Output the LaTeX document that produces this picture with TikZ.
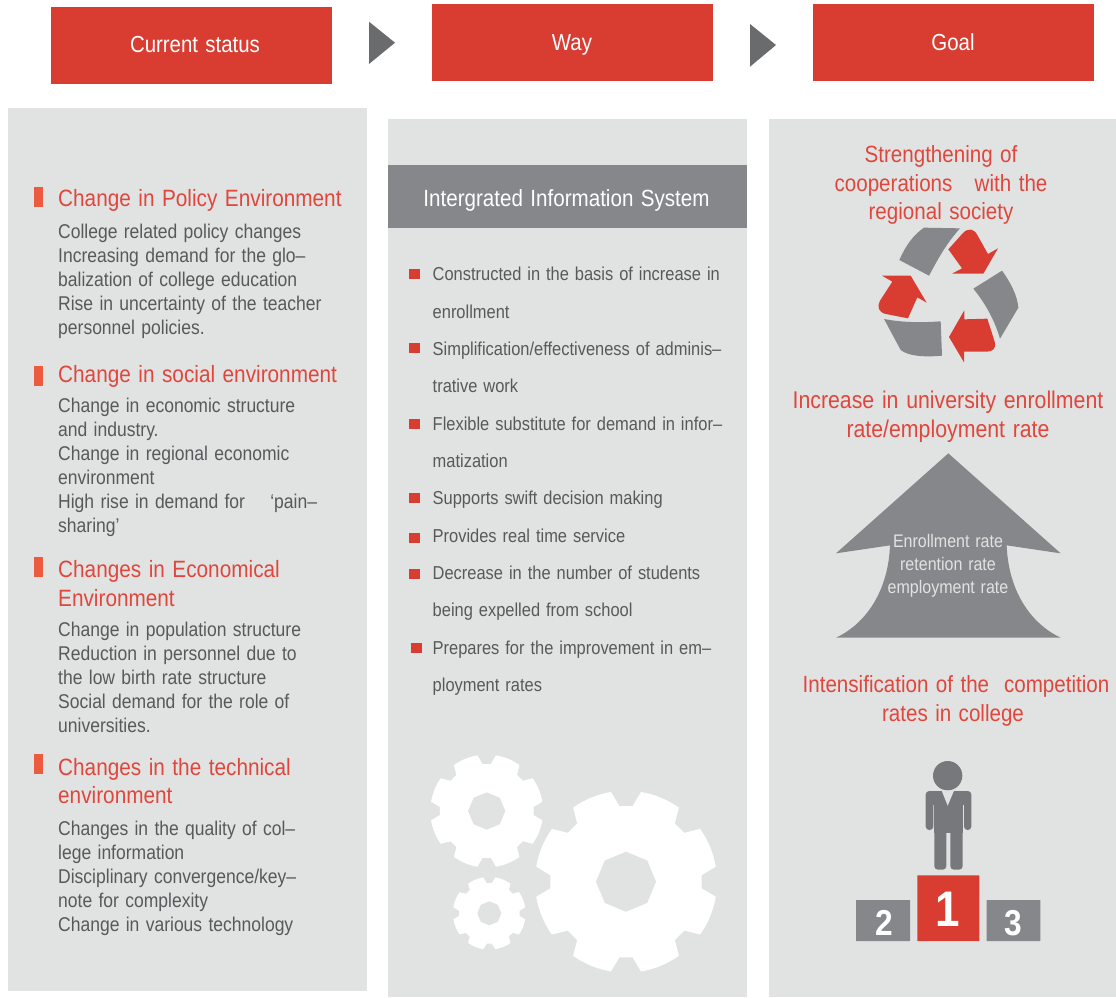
\documentclass[tikz,border=0pt]{standalone}
\usepackage{fontspec}
\setmainfont[FakeStretch=0.88,WordSpace=1.3]{Liberation Sans}
\definecolor{redbox}{HTML}{D93D32}
\definecolor{redtxt}{HTML}{E0463C}
\definecolor{redbar}{HTML}{EC5A40}
\definecolor{panel}{HTML}{E1E3E2}
\definecolor{greybar}{HTML}{86878A}
\definecolor{tri}{HTML}{6A6B6D}
\definecolor{person}{HTML}{77787C}
\definecolor{bodytxt}{HTML}{57595B}
\tikzset{
 boxfill/.style={fill=panel,draw=none},
 headtxt/.style={text=white,font=\fontsize{23.2}{23}\selectfont,inner sep=0pt,anchor=base},
 redhead/.style={text=redtxt,font=\fontsize{23.6}{23}\selectfont,inner sep=0pt,anchor=base west},
 bodyline/.style={text=bodytxt,font=\fontsize{19.9}{19}\selectfont,inner sep=0pt,anchor=base west},
 wayline/.style={text=bodytxt,font=\fontsize{18.7}{18.5}\selectfont,inner sep=0pt,anchor=base west},
 goaltxt/.style={text=redtxt,font=\fontsize{23.4}{23}\selectfont,inner sep=0pt,anchor=base},
 goalwide/.style={text=redtxt,font=\fontsize{24.2}{23}\selectfont,inner sep=0pt,anchor=base},
 arrowtxt/.style={text=panel,font=\fontsize{18.2}{17}\selectfont,inner sep=0pt,anchor=base},
 numtxt/.style={text=white,font=\bfseries,inner sep=0pt,anchor=center},
}
\newcommand{\gearshape}[3]{%
 \begin{scope}[shift={(#1,#2)},yscale=-1,scale=#3]
  \fill[white] (5:76pt)
   \foreach \a [evaluate=\a as \p using \a-17.5,evaluate=\a as \q using \a-13,evaluate=\a as \r using \a+13,evaluate=\a as \s using \a+17.5] in {22.5,67.5,...,337.5}
   { -- (\p:76pt) -- (\q:91pt) arc[start angle=\q,end angle=\r,radius=91pt] -- (\s:76pt)} -- cycle;
  \fill[panel] (0:30pt) -- (45:30pt) -- (90:30pt) -- (135:30pt) -- (180:30pt) -- (225:30pt) -- (270:30pt) -- (315:30pt) -- cycle;
 \end{scope}}
\begin{document}
\begin{tikzpicture}[x=1pt,y=-1pt]
\useasboundingbox (0,0) rectangle (1116,997);
\fill[white] (0,0) rectangle (1116,997);
% header boxes
\fill[redbox] (51,7) rectangle (332,84);
\fill[redbox] (432,4) rectangle (713,81);
\fill[redbox] (813,4) rectangle (1094,81);
\node (h1) [headtxt] at (195,52) {Current status};
\node (h2) [headtxt] at (572,50) {Way};
\node (h3) [headtxt] at (953,50) {Goal};
\fill[tri] (369,21.7) -- (395,42.7) -- (369,64) -- cycle;
\fill[tri] (750,24) -- (776,45) -- (750,66.7) -- cycle;
% panels
\fill[boxfill] (8,108) rectangle (367,991);
\fill[boxfill] (388,119) rectangle (747,997);
\fill[boxfill] (769,119) rectangle (1116,997);
% left column
\foreach \y in {187,366,557,754} \fill[redbar] (34,\y) rectangle (43.3,\y+20);
\node (a1) [redhead] at (58,206) {Change in Policy Environment};
\node (a2) [bodyline] at (58,238) {College related policy changes};
\node (a3) [bodyline] at (58,262) {Increasing demand for the glo–};
\node (a4) [bodyline] at (58,286) {balization of college education};
\node (a5) [bodyline] at (58,310) {Rise in uncertainty of the teacher};
\node (a6) [bodyline] at (58,334) {personnel policies.};
\node (b1) [redhead] at (58,382) {Change in social environment};
\node (b2) [bodyline] at (58,412) {Change in economic structure};
\node (b3) [bodyline] at (58,436) {and industry.};
\node (b4) [bodyline] at (58,460) {Change in regional economic};
\node (b5) [bodyline] at (58,484) {environment};
\node (b6) [bodyline] at (58,508) {High rise in demand for\ \ \ \ ‘pain–};
\node (b7) [bodyline] at (58,532) {sharing’};
\node (c1) [redhead] at (58,577) {Changes in Economical};
\node (c2) [redhead] at (58,606) {Environment};
\node (c3) [bodyline] at (58,636) {Change in population structure};
\node (c4) [bodyline] at (58,660) {Reduction in personnel due to};
\node (c5) [bodyline] at (58,684) {the low birth rate structure};
\node (c6) [bodyline] at (58,708) {Social demand for the role of};
\node (c7) [bodyline] at (58,732) {universities.};
\node (d1) [redhead] at (58,775) {Changes in the technical};
\node (d2) [redhead] at (58,803) {environment};
\node (d3) [bodyline] at (58,835) {Changes in the quality of col–};
\node (d4) [bodyline] at (58,859) {lege information};
\node (d5) [bodyline] at (58,883) {Disciplinary convergence/key–};
\node (d6) [bodyline] at (58,907) {note for complexity};
\node (d7) [bodyline] at (58,931) {Change in various technology};
% middle column
\fill[greybar] (388,165) rectangle (747,228);
\node (bar) [headtxt,font=\fontsize{23.4}{23}\selectfont] at (566.5,206) {Intergrated Information System};
\foreach \x/\y in {409/273.5,409/348,409/423.5,409/498,409/538,409/574,411/648}
 \fill[redbox] (\x,\y-5) rectangle (\x+11,\y+5);
\node (w1) [wayline] at (432.5,280) {Constructed in the basis of increase in};
\node (w2) [wayline] at (432.5,318) {enrollment};
\node (w3) [wayline] at (432.5,355) {Simplification/effectiveness of adminis–};
\node (w4) [wayline] at (432.5,392) {trative work};
\node (w5) [wayline] at (432.5,430) {Flexible substitute for demand in infor–};
\node (w6) [wayline] at (432.5,467) {matization};
\node (w7) [wayline] at (432.5,504) {Supports swift decision making};
\node (w8) [wayline] at (432.5,542) {Provides real time service};
\node (w9) [wayline] at (432.5,579) {Decrease in the number of students};
\node (w10) [wayline] at (432.5,616) {being expelled from school};
\node (w11) [wayline] at (432.5,654) {Prepares for the improvement in em–};
\node (w12) [wayline] at (432.5,691) {ployment rates};
% gears
\gearshape{626}{881.7}{1}
\gearshape{486.7}{811}{0.62}
\gearshape{489.3}{913.3}{0.40}
% right column texts
\node (g1) [goaltxt] at (941,162) {Strengthening of};
\node (g2) [goaltxt] at (941,191) {cooperations\ \ \ with the};
\node (g3) [goaltxt] at (941,219) {regional society};
\node (g4) [goalwide] at (948,408) {Increase in university enrollment};
\node (g5) [goalwide] at (948,437) {rate/employment rate};
\node (g6) [goaltxt] at (956,692) {Intensification of the\ \ competition};
\node (g7) [goaltxt] at (953,721) {rates in college};
% recycling symbol
\begin{scope}[shift={(780,130)},scale=1/3]
 \fill[greybar] (432,293) -- (540,295) .. controls (495,345) and (470,395) .. (447,437) -- (358,390) .. controls (378,345) and (400,315) .. cycle;
 \fill[greybar] (666,422) -- (580,476) .. controls (620,525) and (645,575) .. (660,626) -- (715,533) .. controls (712,495) and (690,455) .. cycle;
 \fill[greybar] (312,567) .. controls (370,578) and (425,578) .. (482,574) -- (486,677) .. controls (430,682) and (385,678) .. (362,660) -- cycle;
 \fill[redbox] (505,358) -- (548,310) .. controls (565,292) and (582,296) .. (592,315) -- (624,372) -- (654,355) -- (610,431) -- (516,431) -- (546,415) -- cycle;
 \fill[redbox] (306,437) -- (392,437) -- (440,518) -- (412,502) -- (384,565) -- (318,552) .. controls (296,548) and (290,530) .. (300,512) -- (337,455) -- cycle;
 \fill[redbox] (553,541) -- (553,568) -- (622,566) -- (644,635) .. controls (650,655) and (638,665) .. (620,665) -- (552,665) -- (552,697) -- (507,621) -- cycle;
\end{scope}
% big arrow
\begin{scope}[shift={(800,440)},scale=1/3]
 \fill[greybar] (445,40) -- (782,340) -- (620,316) .. controls (625,450) and (690,550) .. (782,593) -- (108,593) .. controls (200,550) and (265,450) .. (270,316) -- (108,340) -- cycle;
\end{scope}
\node (r1) [arrowtxt] at (948,547) {Enrollment rate};
\node (r2) [arrowtxt] at (948,570) {retention rate};
\node (r3) [arrowtxt] at (948,593) {employment rate};
% podium and person
\begin{scope}[shift={(840,750)},scale=1/3]
 \fill[person] (323,77) circle[radius=44];
 % arms
 \fill[person,rounded corners=3.5pt] (257,123) rectangle (280,240);
 \fill[person,rounded corners=3.5pt] (372,123) rectangle (394,240);
 % shoulders and torso
 \fill[person] (270,123) rectangle (380,165);
 \fill[person] (283,160) rectangle (368,250);
 % legs
 \fill[person,rounded corners=3.5pt] (283,240) rectangle (319,359);
 \fill[person,rounded corners=3.5pt] (331,240) rectangle (368,359);
 % collar notch
 \fill[panel] (305,122) -- (323,167) -- (342,122) -- cycle;
 \fill[greybar,rounded corners=0.4pt] (48,450) rectangle (210,573);
 \fill[redbox,rounded corners=0.4pt] (232,376) rectangle (418,573);
 \fill[greybar,rounded corners=0.4pt] (440,450) rectangle (601,573);
\end{scope}
\node (n2) [numtxt,font=\fontsize{36}{36}\selectfont\bfseries] at (884,923) {2};
\node (n1) [numtxt,font=\fontsize{50}{50}\selectfont\bfseries] at (948,909) {1};
\node (n3) [numtxt,font=\fontsize{36}{36}\selectfont\bfseries] at (1013,923) {3};
\end{tikzpicture}
\end{document}
